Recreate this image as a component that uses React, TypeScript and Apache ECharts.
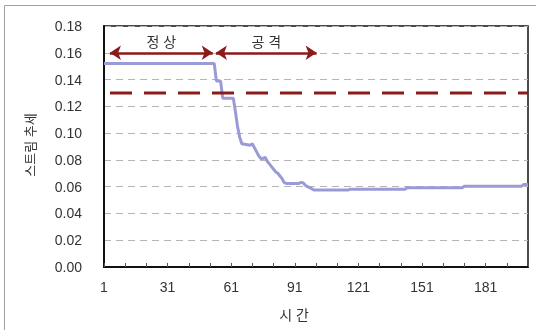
import React, { useEffect, useRef } from "react";
import * as echarts from "echarts";

// time points and stream trend values
const times = [1, 53, 54, 56, 57, 62, 63, 64, 65, 66, 70, 71, 72, 73, 74, 75, 76, 77, 78, 79, 80, 81, 82, 83, 84, 85, 86, 87, 93, 94, 95, 96, 97, 99, 100, 116, 117, 143, 144, 170, 171, 198, 199, 201];
const values = [0.152, 0.152, 0.139, 0.139, 0.126, 0.126, 0.116, 0.105, 0.097, 0.092, 0.091, 0.092, 0.089, 0.086, 0.083, 0.081, 0.081, 0.082, 0.079, 0.077, 0.075, 0.073, 0.071, 0.07, 0.068, 0.066, 0.063, 0.0624, 0.0624, 0.0632, 0.0628, 0.061, 0.06, 0.0585, 0.0575, 0.0575, 0.058, 0.058, 0.0592, 0.0592, 0.0604, 0.0604, 0.0617, 0.0617];
const threshold = 0.13;
const xTickLabels = ["1", "31", "61", "91", "121", "151", "181"];
const phaseNames = ["정 상", "공 격"];
const phaseStarts = [3.8, 53.8];
const phaseEnds = [52.3, 101.3];
const phaseLevel = 0.16;
const yTitle = "스트림 추세";
const xTitle = "시 간";

const FONT = "'Liberation Sans', 'Noto Sans CJK KR', sans-serif";

export default function App() {
  const ref = useRef<HTMLDivElement>(null);
  useEffect(() => {
    const chart = echarts.init(ref.current!, null, { renderer: "svg" });
    const lineData = times.map((t, i) => [t - 1, values[i]]);
    const maxX = times[times.length - 1] - 1;
    chart.setOption({
      animation: false,
      textStyle: { fontFamily: FONT },
      grid: {
        left: 104,
        top: 26,
        right: 8,
        bottom: 63,
        show: true,
        borderColor: "#111",
        borderWidth: 1.5,
        backgroundColor: "transparent",
      },
      xAxis: {
        type: "value",
        min: 0,
        max: maxX,
        interval: 10,
        axisLine: { show: true, lineStyle: { color: "#111", width: 2 } },
        axisTick: { show: true, inside: true, length: 4, lineStyle: { color: "#555" } },
        splitLine: { show: false },
        axisLabel: {
          margin: 13,
          color: "#333",
          fontSize: 14,
          fontFamily: FONT,
          formatter: (v: number) => {
            const s = String(v + 1);
            return xTickLabels.includes(s) && v % 30 === 0 ? s : "";
          },
        },
      },
      yAxis: {
        type: "value",
        min: 0,
        max: 0.18,
        interval: 0.02,
        axisLine: { show: true, lineStyle: { color: "#111", width: 2 } },
        axisTick: { show: false },
        splitLine: { show: true, lineStyle: { color: "#b4b4b4", type: [7, 5], width: 1 } },
        axisLabel: {
          margin: 22,
          color: "#333",
          fontSize: 14,
          fontFamily: FONT,
          formatter: (v: number) => v.toFixed(2),
        },
      },
      series: [
        {
          type: "line",
          data: lineData,
          showSymbol: false,
          symbol: "none",
          lineStyle: { color: "#9a9ad8", width: 3 },
          z: 3,
        },
        {
          type: "line",
          data: [
            [0, threshold],
            [maxX, threshold],
          ],
          showSymbol: false,
          symbol: "none",
          lineStyle: { color: "#8c1a1a", width: 3, type: [22, 12], dashOffset: 28 },
          z: 4,
          markLine: {
            silent: true,
            symbol: ["arrow", "arrow"],
            symbolSize: 11,
            lineStyle: { color: "#8c1a1a", width: 2.5, type: "solid" },
            label: {
              show: true,
              position: "middle",
              color: "#333",
              fontSize: 14,
              fontFamily: FONT,
              distance: 4,
              formatter: (p: any) => p.name,
            },
            data: phaseNames.map((n, i) => [
              { name: n, coord: [phaseStarts[i] - 1, phaseLevel] },
              { coord: [phaseEnds[i] - 1, phaseLevel] },
            ]),
          },
        },
      ],
      graphic: [
        {
          type: "rect",
          shape: { x: 4.5, y: 5.5, width: 700, height: 500 },
          style: { fill: "none", stroke: "#a0a0a0", lineWidth: 1 },
          silent: true,
        },
        {
          type: "text",
          x: 30,
          y: 145,
          rotation: Math.PI / 2,
          style: {
            text: yTitle,
            fill: "#333",
            fontSize: 13,
            fontFamily: FONT,
            align: "center",
            verticalAlign: "middle",
          },
        },
        {
          type: "text",
          x: 294,
          y: 315,
          style: {
            text: xTitle,
            fill: "#333",
            fontSize: 14,
            fontFamily: FONT,
            align: "center",
            verticalAlign: "middle",
          },
        },
      ],
    });
    return () => chart.dispose();
  }, []);
  return <div ref={ref} style={{ width: 536, height: 330, position: "fixed", left: 0, top: 0 }} />;
}
